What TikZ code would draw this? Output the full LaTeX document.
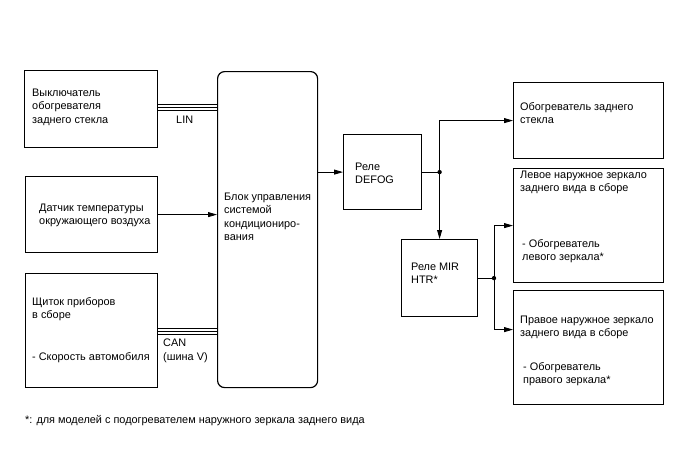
\documentclass[tikz,border=0pt]{standalone}
\usepackage{fontspec}
\setmainfont{Liberation Sans}
\usetikzlibrary{arrows.meta,calc}
\begin{document}
\begin{tikzpicture}[x=1pt,y=-1pt,
  box/.style={draw,line width=1.2pt,inner sep=0pt},
  txt/.style={anchor=north west,inner sep=0pt,align=left,font=\fontsize{10.9}{13.2}\selectfont},
  conn/.style={line width=0.8pt},
  arr/.style={conn,-{Triangle[length=9pt,width=5pt]}},
  busl/.style={line width=0.8pt}]
\useasboundingbox (0,0) rectangle (688,463);
% boxes
\node[box,minimum width=133pt,minimum height=77pt,anchor=north west] (sw) at (24,70) {};
\node[box,minimum width=132pt,minimum height=76pt,anchor=north west] (sens) at (25,176) {};
\node[box,minimum width=132pt,minimum height=114pt,anchor=north west] (meter) at (25,273) {};
\node[box,rounded corners=7pt,minimum width=100pt,minimum height=316pt,anchor=north west] (ecu) at (217,71) {};
\node[box,minimum width=78pt,minimum height=75pt,anchor=north west] (defog) at (343,134) {};
\node[box,minimum width=150pt,minimum height=76pt,anchor=north west] (rwh) at (513,82) {};
\node[box,minimum width=150pt,minimum height=114pt,anchor=north west] (lmir) at (513,168) {};
\node[box,minimum width=150pt,minimum height=114pt,anchor=north west] (rmir) at (513,290) {};
\node[box,minimum width=76pt,minimum height=77pt,anchor=north west] (mir) at (401,239) {};
% texts
\node[txt] (t1) at (32,89) {Выключатель\\обогревателя\\заднего стекла};
\node[txt] (t2) at (39,204) {Датчик температуры\\окружающего воздуха};
\node[txt] (t3) at (32,297) {Щиток приборов\\в сборе};
\node[txt] (t3b) at (32,352) {- Скорость автомобиля};
\node[txt] (t4) at (224,193) {Блок управления\\системой\\кондициониро-\\вания};
\node[txt] (t5) at (355,163) {Реле\\DEFOG};
\node[txt] (t6) at (520,102) {Обогреватель заднего\\стекла};
\node[txt] (t7) at (520,171) {Левое наружное зеркало\\заднего вида в сборе};
\node[txt] (t7b) at (522,239) {- Обогреватель\\левого зеркала*};
\node[txt] (t8) at (411,263) {Реле MIR\\HTR*};
\node[txt] (t9) at (520,316) {Правое наружное зеркало\\заднего вида в сборе};
\node[txt] (t9b) at (523,362) {- Обогреватель\\правого зеркала*};
\node[txt] (lin) at (176,116) {LIN};
\node[txt] (can) at (163,339) {CAN\\(шина V)};
\node[txt] (fn) at (25,415) {*: для моделей с подогревателем наружного зеркала заднего вида};
% buses
\coordinate (liny) at (0,107.5);
\coordinate (cany) at (0,331);
\foreach \d in {-3,0,3}{
  \draw[busl] ([yshift=\d pt]sw.east |- liny) -- ([yshift=\d pt]ecu.west |- liny);
  \draw[busl] ([yshift=\d pt]meter.east |- cany) -- ([yshift=\d pt]ecu.west |- cany);
}
% connectors
\draw[arr] (sens.east) -- (ecu.west |- sens.east);
\draw[arr] (ecu.east |- defog.west) -- (defog.west);
\coordinate (j1) at (mir.north |- defog.east);
\draw[conn] (defog.east) -- (j1);
\draw[arr] (j1) |- (rwh.west);
\draw[arr] (j1) -- (mir.north);
\coordinate (j2) at (494,0);
\coordinate (j2) at (j2 |- mir.east);
\draw[conn] (mir.east) -- (j2);
\draw[arr] (j2) |- (lmir.west);
\coordinate (ra) at ([yshift=18pt]rmir.west);
\draw[arr] (j2) |- (ra);
\fill (j1) circle (2.2pt);
\fill (j2) circle (2.2pt);
\end{tikzpicture}
\end{document}
